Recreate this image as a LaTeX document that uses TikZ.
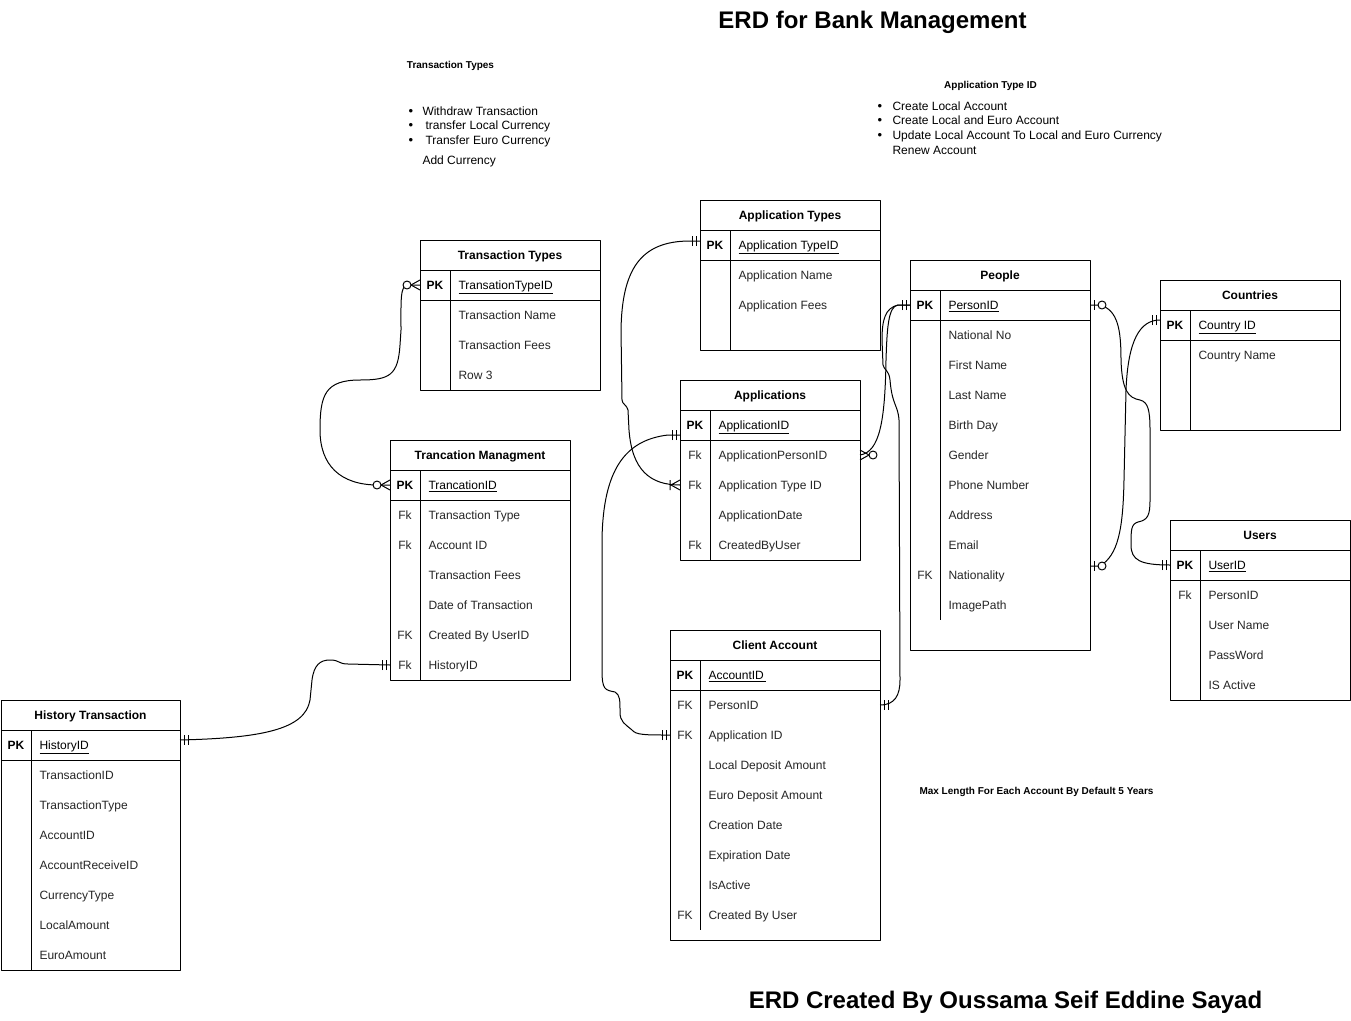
\documentclass[tikz,border=0pt]{standalone}
\usepackage{fontspec}
\setmainfont{Liberation Sans}
\usetikzlibrary{calc}
\tikzset{
  tbox/.style={draw, inner sep=0pt, outer sep=0pt},
  thead/.style={font=\fontsize{12}{14}\selectfont\bfseries, inner sep=0pt, text height=8.6pt, text depth=0pt},
  ptxt/.style={font=\fontsize{12}{14}\selectfont\bfseries, inner sep=0pt, anchor=west, text height=8.6pt, text depth=0pt},
  pfld/.style={font=\fontsize{12}{14}\selectfont, inner sep=0pt, anchor=west, text height=8.6pt, text depth=0pt},
  rtxt/.style={font=\fontsize{12}{14}\selectfont, text=black!85, inner sep=0pt, anchor=west, text height=8.6pt, text depth=0pt},
  rlab/.style={font=\fontsize{12}{14}\selectfont, text=black!85, inner sep=0pt, anchor=center, text height=8.6pt, text depth=0pt},
  ntitle/.style={font=\fontsize{10}{12}\selectfont\bfseries, inner sep=0pt, text height=7.2pt, text depth=0pt},
  ntxt/.style={font=\fontsize{12}{14}\selectfont, inner sep=0pt, anchor=west, text height=8.6pt, text depth=0pt},
  bul/.style={font=\fontsize{13}{14}\selectfont, inner sep=0pt, anchor=center},
  bigtitle/.style={font=\fontsize{24}{28}\selectfont\bfseries, inner sep=0pt, text height=17.2pt, text depth=0pt},
  conn/.style={line width=1pt},
  mone/.pic={\draw (4,-5)--(4,5) (8,-5)--(8,5);},
  zmany/.pic={\draw (0,-5)--(9,0)--(0,5); \draw[fill=white] (13,0) circle (4);},
  omany/.pic={\draw (0,-5)--(9,0)--(0,5) (10,-5)--(10,5);},
  zone/.pic={\draw (4,-5)--(4,5); \draw[fill=white] (12,0) circle (4);},
}
\newcommand\ertab[7]{%
  \node[tbox, minimum width=#4pt, minimum height=#5pt, anchor=north west] (#1) at (#2,#3) {};
  \node[thead] (#1-t) at (#2+#4/2,#3+15) {#6};
  \draw (#2,#3+30) -- (#2+#4,#3+30);
  \draw (#2,#3+60) -- (#2+#4,#3+60);
  \node[ptxt, anchor=center] (#1-pkl) at (#2+15,#3+45) {PK};
  \node[pfld] (#1-pk) at (#2+38,#3+45) {\underline{#7}};
}
\newcommand\erow[5]{%
  \node[rlab] (#1l) at (#2+15,#3) {#4};
  \node[rtxt] (#1) at (#2+38,#3) {#5};
}
\begin{document}
\begin{tikzpicture}[x=1pt,y=-1pt,line width=1pt,line join=round]
\fill[white] (0,0) rectangle (1351,1020);
\useasboundingbox (0,0) rectangle (1351,1020);

% titles and notes
\node[bigtitle] (title) at (872.5,20) {ERD for Bank Management};
\node[bigtitle] (author) at (1005.5,1000) {ERD Created By Oussama Seif Eddine Sayad};

\node[ntitle] (n1t) at (450.5,65) {Transaction Types};
\node[bul] (n1b1) at (411,112.5) {•};
\node[ntxt] (n1a) at (422,111) {Withdraw Transaction};
\node[bul] (n1b2) at (411,126.5) {•};
\node[ntxt] (n1b) at (425,125) {transfer Local Currency};
\node[bul] (n1b3) at (411,141.5) {•};
\node[ntxt] (n1c) at (425,140) {Transfer Euro Currency};
\node[ntxt] (n1d) at (422,160) {Add Currency};

\node[ntitle] (n2t) at (990.5,85) {Application Type ID};
\node[bul] (n2b1) at (880,107.5) {•};
\node[ntxt] (n2a) at (892,106) {Create Local Account};
\node[bul] (n2b2) at (880,121.5) {•};
\node[ntxt] (n2b) at (892,120) {Create Local and Euro Account};
\node[bul] (n2b3) at (880,136.5) {•};
\node[ntxt] (n2c) at (892,135) {Update Local Account To Local and Euro Currency};
\node[ntxt] (n2d) at (892,150) {Renew Account};

\node[ntitle, anchor=west] (n3) at (919,791) {Max Length For Each Account By Default 5 Years};

% Transaction Types
\ertab{tt}{420}{240}{180}{150}{Transaction Types}{TransationTypeID}
\draw (450,270) -- (450,390);
\erow{tt1}{420}{315}{}{Transaction Name}
\erow{tt2}{420}{345}{}{Transaction Fees}
\erow{tt3}{420}{375}{}{Row 3}

% Application Types
\ertab{at}{700}{200}{180}{150}{Application Types}{Application TypeID}
\draw (730,230) -- (730,350);
\erow{at1}{700}{275}{}{Application Name}
\erow{at2}{700}{305}{}{Application Fees}

% People
\ertab{pe}{910}{260}{180}{390}{People}{PersonID}
\draw (940,290) -- (940,620);
\erow{pe1}{910}{335}{}{National No}
\erow{pe2}{910}{365}{}{First Name}
\erow{pe3}{910}{395}{}{Last Name}
\erow{pe4}{910}{425}{}{Birth Day}
\erow{pe5}{910}{455}{}{Gender}
\erow{pe6}{910}{485}{}{Phone Number}
\erow{pe7}{910}{515}{}{Address}
\erow{pe8}{910}{545}{}{Email}
\erow{pe9}{910}{575}{FK}{Nationality}
\erow{pe10}{910}{605}{}{ImagePath}

% Countries
\ertab{co}{1160}{280}{180}{150}{Countries}{Country ID}
\draw (1190,310) -- (1190,430);
\erow{co1}{1160}{355}{}{Country Name}

% Users
\ertab{us}{1170}{520}{180}{180}{Users}{UserID}
\draw (1200,550) -- (1200,700);
\erow{us1}{1170}{595}{Fk}{PersonID}
\erow{us2}{1170}{625}{}{User Name}
\erow{us3}{1170}{655}{}{PassWord}
\erow{us4}{1170}{685}{}{IS Active}

% Applications
\ertab{ap}{680}{380}{180}{180}{Applications}{ApplicationID}
\draw (710,410) -- (710,560);
\erow{ap1}{680}{455}{Fk}{ApplicationPersonID}
\erow{ap2}{680}{485}{Fk}{Application Type ID}
\erow{ap3}{680}{515}{}{ApplicationDate}
\erow{ap4}{680}{545}{Fk}{CreatedByUser}

% Trancation Managment
\ertab{tm}{390}{440}{180}{240}{Trancation Managment}{TrancationID}
\draw (420,470) -- (420,680);
\erow{tm1}{390}{515}{Fk}{Transaction Type}
\erow{tm2}{390}{545}{Fk}{Account ID}
\erow{tm3}{390}{575}{}{Transaction Fees}
\erow{tm4}{390}{605}{}{Date of Transaction}
\erow{tm5}{390}{635}{FK}{Created By UserID}
\erow{tm6}{390}{665}{Fk}{HistoryID}

% Client Account
\ertab{ca}{670}{630}{210}{310}{Client Account}{AccountID\,}
\draw (700,660) -- (700,930);
\erow{ca1}{670}{705}{FK}{PersonID}
\erow{ca2}{670}{735}{FK}{Application ID}
\erow{ca3}{670}{765}{}{Local Deposit Amount}
\erow{ca4}{670}{795}{}{Euro Deposit Amount}
\erow{ca5}{670}{825}{}{Creation Date}
\erow{ca6}{670}{855}{}{Expiration Date}
\erow{ca7}{670}{885}{}{IsActive}
\erow{ca8}{670}{915}{FK}{Created By User}

% History Transaction
\ertab{ht}{1}{700}{179}{270}{History Transaction}{HistoryID}
\draw (31,730) -- (31,970);
\erow{ht1}{1}{775}{}{TransactionID}
\erow{ht2}{1}{805}{}{TransactionType}
\erow{ht3}{1}{835}{}{AccountID}
\erow{ht4}{1}{865}{}{AccountReceiveID}
\erow{ht5}{1}{895}{}{CurrencyType}
\erow{ht6}{1}{925}{}{LocalAmount}
\erow{ht7}{1}{955}{}{EuroAmount}

% connector end points
\coordinate (ttpkW) at (420,285);
\coordinate (tmpkW) at (390,485);
\coordinate (atpkW) at (700,241);
\coordinate (aptyW) at (680,485);
\coordinate (appkW) at (680,435);
\coordinate (caapW) at (670,735);
\coordinate (pepkW) at (910,305);
\coordinate (apperE) at (860,455);
\coordinate (caperE) at (880,705);
\coordinate (pepkE) at (1090,305);
\coordinate (uspkW) at (1170,565);
\coordinate (penatE) at (1090,566);
\coordinate (copkW) at (1160,320);
\coordinate (htpkE) at (180,740);
\coordinate (tmhiW) at (390,665);

% connectors
\draw[conn] (ttpkW) -- (408,285) .. controls (400,285) and (401,300) .. (401,330) -- (400,345)
  .. controls (398,375) and (390,380) .. (360,380) .. controls (325,380) and (320,395) .. (320,430)
  .. controls (320,465) and (340,485) .. (378,485) -- (tmpkW);

\draw[conn] (atpkW) -- (690,241) .. controls (640,241) and (622,270) .. (621,330) -- (622,400)
  .. controls (622,404) and (627,405) .. (628,410) -- (629,430)
  .. controls (632,470) and (650,485) .. (aptyW);

\draw[conn] (appkW) -- (668,435) .. controls (625,440) and (603,470) .. (602,540) -- (602,670)
  .. controls (602,690) and (605,690) .. (615,692) .. controls (620,695) and (620,700) .. (620,712)
  .. controls (620,722) and (625,724) .. (632,730) .. controls (636,735) and (645,735) .. (caapW);

\draw[conn] (pepkW) -- (898,305) .. controls (888,306) and (887,330) .. (886,360)
  .. controls (885,420) and (880,452) .. (apperE);

\draw[conn] (pepkW) -- (898,305) .. controls (885,308) and (882,320) .. (882,340) -- (883,365)
  .. controls (884,370) and (889,370) .. (890,380) .. controls (892,405) and (898,405) .. (899,420)
  -- (900,680) .. controls (900,695) and (895,705) .. (caperE);

\draw[conn] (pepkE) -- (1100,305) .. controls (1118,310) and (1121,330) .. (1121,360)
  .. controls (1122,390) and (1128,398) .. (1140,400) .. controls (1148,402) and (1150,410) .. (1150,430)
  -- (1150,500) .. controls (1150,515) and (1148,520) .. (1138,522)
  .. controls (1131,524) and (1131,530) .. (1131,545) .. controls (1131,560) and (1140,565) .. (uspkW);

\draw[conn] (penatE) -- (1100,566) .. controls (1118,555) and (1123,530) .. (1124,480) -- (1126,390)
  .. controls (1128,340) and (1140,320) .. (copkW);

\draw[conn] (htpkE) .. controls (260,738) and (305,730) .. (310,700) -- (312,680)
  .. controls (314,665) and (320,660) .. (330,660) .. controls (340,660) and (338,664) .. (348,664)
  -- (tmhiW);

% end marks
\pic[rotate=180] at (ttpkW) {zmany};
\pic[rotate=180] at (tmpkW) {zmany};
\pic[rotate=180] at (atpkW) {mone};
\pic[rotate=180] at (aptyW) {omany};
\pic[rotate=180] at (appkW) {mone};
\pic[rotate=180] at (caapW) {mone};
\pic[rotate=180] at (pepkW) {mone};
\pic at (apperE) {zmany};
\pic at (caperE) {mone};
\pic at (pepkE) {zone};
\pic[rotate=180] at (uspkW) {mone};
\pic at (penatE) {zone};
\pic[rotate=180] at (copkW) {mone};
\pic at (htpkE) {mone};
\pic[rotate=180] at (tmhiW) {mone};
\end{tikzpicture}
\end{document}
